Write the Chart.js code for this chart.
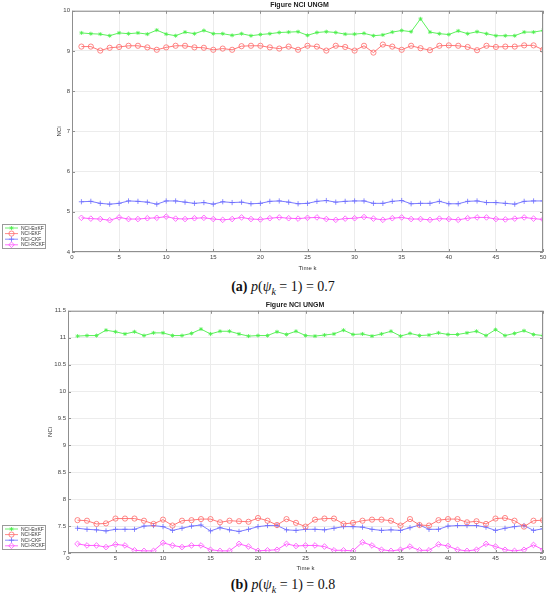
<!DOCTYPE html>
<html lang="en">
    <head>
        <meta charset="UTF-8" />
        <title>Figure NCI UNGM</title>
        <script src="https://cdn.jsdelivr.net/npm/chart.js"></script>
    </head>
    <body>
        <style>
            body {
                margin: 0;
                width: 550px;
                height: 599px;
                background: white;
                position: relative;
                overflow: hidden;
            }
            .panel {
                position: absolute;
                left: 0;
                width: 550px;
                height: 272px;
            }
            .caption {
                position: absolute;
                left: 0;
                width: 566px;
                text-align: center;
                font-family: "Liberation Serif", serif;
                font-size: 14px;
                color: #111;
            }
            .caption b { font-weight: bold; }
            .caption sub { font-size: 10px; font-style: italic; }
        </style>
        <div class="panel" style="top: 0px"><canvas id="chartA" width="550" height="272"></canvas></div>
        <div class="caption" style="top: 279px"><b>(a)</b> <i>p</i>(<i>ψ</i><sub>k</sub> = 1) = 0.7</div>
        <div class="panel" style="top: 300px"><canvas id="chartB" width="550" height="272"></canvas></div>
        <div class="caption" style="top: 577px"><b>(b)</b> <i>p</i>(<i>ψ</i><sub>k</sub> = 1) = 0.8</div>
        <script>
            const timeK = [
                1, 2, 3, 4, 5, 6, 7, 8, 9, 10, 11, 12, 13, 14, 15, 16, 17,
                18, 19, 20, 21, 22, 23, 24, 25, 26, 27, 28, 29, 30, 31, 32,
                33, 34, 35, 36, 37, 38, 39, 40, 41, 42, 43, 44, 45, 46, 47,
                48, 49, 50,
            ];

            const seriesNames = ["NCI-EnKF", "NCI-EKF", "NCI-CKF", "NCI-RCKF"];

            // (a) p = 0.7
            const enkfA = [
                9.45, 9.43, 9.42, 9.38, 9.45, 9.43, 9.45, 9.42, 9.52, 9.42,
                9.38, 9.47, 9.43, 9.51, 9.43, 9.43, 9.39, 9.43, 9.38, 9.41,
                9.43, 9.46, 9.47, 9.48, 9.39, 9.46, 9.48, 9.46, 9.42, 9.42,
                9.44, 9.38, 9.4, 9.47, 9.51, 9.48, 9.8, 9.47, 9.43, 9.41,
                9.5, 9.43, 9.48, 9.43, 9.38, 9.38, 9.38, 9.47, 9.47, 9.51,
            ];
            const ekfA = [
                9.11, 9.11, 9.01, 9.08, 9.1, 9.13, 9.13, 9.09, 9.03, 9.09,
                9.13, 9.13, 9.09, 9.08, 9.03, 9.06, 9.03, 9.12, 9.13, 9.13,
                9.09, 9.06, 9.11, 9.03, 9.13, 9.11, 9.01, 9.13, 9.1, 9.01,
                9.13, 8.96, 9.16, 9.11, 9.03, 9.13, 9.07, 9.02, 9.13, 9.14,
                9.13, 9.1, 9.02, 9.13, 9.1, 9.11, 9.11, 9.14, 9.14, 9.03,
            ];
            const ckfA = [
                5.25, 5.26, 5.21, 5.19, 5.21, 5.27, 5.26, 5.24, 5.19, 5.27,
                5.27, 5.24, 5.21, 5.23, 5.19, 5.25, 5.23, 5.24, 5.2, 5.21,
                5.26, 5.27, 5.24, 5.2, 5.21, 5.26, 5.28, 5.24, 5.26, 5.27,
                5.27, 5.21, 5.21, 5.26, 5.28, 5.2, 5.21, 5.21, 5.26, 5.2,
                5.2, 5.26, 5.27, 5.23, 5.23, 5.21, 5.19, 5.26, 5.27, 5.27,
            ];
            const rckfA = [
                4.85, 4.83, 4.82, 4.79, 4.86, 4.82, 4.82, 4.84, 4.85, 4.88,
                4.83, 4.82, 4.84, 4.85, 4.82, 4.8, 4.82, 4.86, 4.82, 4.81,
                4.84, 4.86, 4.84, 4.83, 4.85, 4.86, 4.82, 4.8, 4.83, 4.84,
                4.87, 4.83, 4.8, 4.84, 4.86, 4.82, 4.82, 4.8, 4.83, 4.82,
                4.8, 4.84, 4.86, 4.86, 4.82, 4.81, 4.83, 4.86, 4.83, 4.81,
            ];

            // (b) p = 0.8
            const enkfB = [
                11.03, 11.04, 11.04, 11.14, 11.11, 11.07, 11.11, 11.04, 11.09, 11.09,
                11.04, 11.04, 11.08, 11.16, 11.07, 11.12, 11.12, 11.07, 11.03, 11.04,
                11.04, 11.11, 11.06, 11.12, 11.04, 11.03, 11.05, 11.07, 11.14, 11.06,
                11.07, 11.03, 11.07, 11.12, 11.03, 11.08, 11.04, 11.05, 11.09, 11.06,
                11.06, 11.09, 11.12, 11.04, 11.15, 11.04, 11.08, 11.13, 11.06, 11.04,
            ];
            const ekfB = [
                7.61, 7.6, 7.54, 7.55, 7.64, 7.64, 7.64, 7.6, 7.54, 7.62,
                7.51, 7.6, 7.61, 7.63, 7.63, 7.57, 7.6, 7.59, 7.58, 7.65,
                7.6, 7.52, 7.63, 7.56, 7.49, 7.62, 7.64, 7.64, 7.54, 7.56,
                7.6, 7.62, 7.62, 7.6, 7.51, 7.63, 7.52, 7.51, 7.61, 7.63,
                7.63, 7.57, 7.59, 7.54, 7.64, 7.65, 7.6, 7.49, 7.6, 7.61,
            ];
            const ckfB = [
                7.46, 7.44, 7.43, 7.41, 7.44, 7.44, 7.44, 7.5, 7.51, 7.49,
                7.42, 7.46, 7.5, 7.52, 7.41, 7.47, 7.43, 7.4, 7.44, 7.49,
                7.51, 7.51, 7.43, 7.42, 7.44, 7.44, 7.43, 7.46, 7.49, 7.49,
                7.48, 7.44, 7.42, 7.43, 7.42, 7.47, 7.52, 7.44, 7.44, 7.5,
                7.51, 7.51, 7.51, 7.48, 7.42, 7.46, 7.49, 7.51, 7.42, 7.45,
            ];
            const rckfB = [
                7.17, 7.14, 7.14, 7.11, 7.16, 7.14, 7.05, 7.04, 7.04, 7.19,
                7.14, 7.11, 7.14, 7.14, 7.06, 7.04, 7.04, 7.17, 7.12, 7.04,
                7.05, 7.06, 7.17, 7.13, 7.14, 7.14, 7.12, 7.05, 7.05, 7.04,
                7.2, 7.14, 7.06, 7.04, 7.06, 7.12, 7.05, 7.05, 7.16, 7.13,
                7.06, 7.04, 7.06, 7.17, 7.12, 7.06, 7.04, 7.06, 7.15, 7.06,
            ];

            const lineColors = ["#4bef4b", "#ff6a6a", "#6d6dff", "#ff4dff"];
            const markers = ["star", "circle", "cross", "rectRot"];
            const markerSizes = [2, 2.6, 2.6, 2.8];

            // MATLAB style box round the axes, ticks pointing inwards
            const framePlugin = {
                id: "frame",
                afterDatasetsDraw(chart) {
                    const { ctx, chartArea: a, scales } = chart;
                    ctx.save();
                    ctx.strokeStyle = "#8f8f8f";
                    ctx.lineWidth = 1;
                    ctx.strokeRect(a.left + 0.5, a.top + 0.5, a.width - 1, a.height - 1);
                    ctx.beginPath();
                    scales.x.ticks.forEach((t) => {
                        const px = Math.round(scales.x.getPixelForValue(t.value)) + 0.5;
                        ctx.moveTo(px, a.top);
                        ctx.lineTo(px, a.top + 3);
                        ctx.moveTo(px, a.bottom);
                        ctx.lineTo(px, a.bottom - 3);
                    });
                    scales.y.ticks.forEach((t) => {
                        const py = Math.round(scales.y.getPixelForValue(t.value)) + 0.5;
                        ctx.moveTo(a.left, py);
                        ctx.lineTo(a.left + 3, py);
                        ctx.moveTo(a.right, py);
                        ctx.lineTo(a.right - 3, py);
                    });
                    ctx.stroke();
                    ctx.restore();
                },
            };

            // boxed legend to the left of the axes, like the MATLAB figure
            const boxLegend = {
                id: "boxLegend",
                afterDraw(chart) {
                    const { ctx, chartArea: a } = chart;
                    const x0 = 2, w = 44, h = 25;
                    const y0 = a.bottom - 3 - h;
                    ctx.save();
                    ctx.fillStyle = "#fff";
                    ctx.fillRect(x0, y0, w, h);
                    ctx.strokeStyle = "#9a9a9a";
                    ctx.lineWidth = 1;
                    ctx.strokeRect(x0 + 0.5, y0 + 0.5, w - 1, h - 1);
                    ctx.font = "5px 'Liberation Sans', sans-serif";
                    ctx.textBaseline = "middle";
                    chart.data.datasets.forEach((ds, i) => {
                        const y = y0 + 4 + i * 5.6;
                        ctx.strokeStyle = ds.borderColor;
                        ctx.lineWidth = 0.8;
                        ctx.beginPath();
                        ctx.moveTo(x0 + 3, y);
                        ctx.lineTo(x0 + 16, y);
                        ctx.stroke();
                        if (Chart.helpers && Chart.helpers.drawPoint) {
                            ctx.fillStyle = ds.pointBackgroundColor;
                            ctx.strokeStyle = ds.borderColor;
                            Chart.helpers.drawPoint(ctx, {
                                pointStyle: ds.pointStyle,
                                radius: ds.pointRadius,
                                borderWidth: 0.8,
                                rotation: 0,
                            }, x0 + 9.5, y);
                        }
                        ctx.fillStyle = "#333";
                        ctx.fillText(ds.label, x0 + 19, y + 0.3);
                    });
                    ctx.restore();
                },
            };

            const makeDatasets = (values) =>
                values.map((v, i) => ({
                    label: seriesNames[i],
                    data: v,
                    borderColor: lineColors[i],
                    backgroundColor: "rgba(0,0,0,0)",
                    borderWidth: 0.9,
                    pointStyle: markers[i],
                    pointRadius: markerSizes[i],
                    pointBorderWidth: 0.8,
                    pointBorderColor: lineColors[i],
                    pointBackgroundColor: i === 0 ? lineColors[0] : "rgba(0,0,0,0)",
                    tension: 0,
                }));

            const tickFont = { family: "'Liberation Sans', sans-serif", size: 6 };

            const makeOptions = (yMin, yMax, yStep, padLeft, yWidth, xHeight) => ({
                animation: false,
                responsive: false,
                layout: { padding: { left: padLeft, right: 7, top: 0, bottom: 0 } },
                plugins: {
                    legend: { display: false },
                    tooltip: { enabled: false },
                    title: {
                        display: true,
                        text: "Figure NCI UNGM",
                        color: "#222",
                        font: { family: "'Liberation Sans', sans-serif", size: 7, weight: "bold" },
                        padding: { top: 1, bottom: 1.4 },
                    },
                },
                scales: {
                    x: {
                        type: "linear",
                        min: 0,
                        max: 50,
                        afterFit: (s) => { s.height = xHeight; },
                        ticks: { stepSize: 5, font: tickFont, color: "#444", padding: 2 },
                        grid: { color: "#ececec", drawTicks: false },
                        border: { display: false },
                        title: {
                            display: true,
                            text: "Time k",
                            color: "#333",
                            font: { family: "'Liberation Sans', sans-serif", size: 6 },
                            padding: 0,
                        },
                    },
                    y: {
                        min: yMin,
                        max: yMax,
                        afterFit: (s) => { s.width = yWidth; },
                        ticks: {
                            stepSize: yStep,
                            font: tickFont,
                            color: "#444",
                            padding: 2,
                            callback: (v) => String(v),
                        },
                        grid: { color: "#ececec", drawTicks: false },
                        border: { display: false },
                        title: {
                            display: true,
                            text: "NCi",
                            color: "#333",
                            font: { family: "'Liberation Sans', sans-serif", size: 6 },
                            padding: 0,
                        },
                    },
                },
            });

            new Chart("chartA", {
                type: "line",
                data: { labels: timeK, datasets: makeDatasets([enkfA, ekfA, ckfA, rckfA]) },
                options: makeOptions(4, 10, 1, 56, 16, 20),
                plugins: [framePlugin, boxLegend],
            });

            new Chart("chartB", {
                type: "line",
                data: { labels: timeK, datasets: makeDatasets([enkfB, ekfB, ckfB, rckfB]) },
                options: makeOptions(7, 11.5, 0.5, 47, 21, 19),
                plugins: [framePlugin, boxLegend],
            });
        </script>
    </body>
</html>
